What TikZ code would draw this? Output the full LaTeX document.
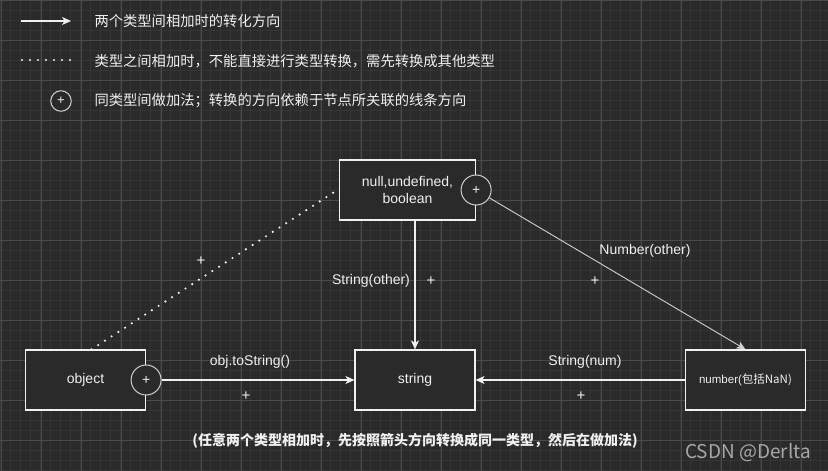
\documentclass[tikz,border=0pt]{standalone}
\usepackage{fontspec}
\setmainfont{Liberation Sans}
\newfontfamily\cjk{Noto Sans CJK SC}
\usetikzlibrary{arrows.meta}
\definecolor{bgdark}{HTML}{2A2A2A}
\definecolor{gridminor}{HTML}{353535}
\definecolor{gridmajor}{HTML}{4B4B4B}
\definecolor{inkwhite}{HTML}{F0F0F0}
\definecolor{ringgray}{HTML}{D0D0D0}
\definecolor{markgray}{HTML}{A8A8A8}

\begin{document}
\begin{tikzpicture}[x=1pt,y=-1pt,
		typebox/.style={draw=inkwhite,line width=1.2pt,fill=bgdark,text=inkwhite,minimum width=120pt,minimum height=60pt,align=center,inner sep=2pt,font=\fontsize{14}{16.5}\selectfont},
		plusring/.style={circle,draw=ringgray,line width=1pt,fill=bgdark,text=inkwhite,minimum size=30pt,inner sep=0pt,font=\fontsize{14}{14}\selectfont},
		conn/.style={draw=inkwhite,line width=1.1pt,-{Stealth[length=9pt,width=8pt,inset=2.5pt]}},
		dotline/.style={draw=inkwhite,line width=2.4pt,line cap=round,dash pattern=on 0pt off 8pt},
		lbl/.style={text=inkwhite,font=\fontsize{14}{16.5}\selectfont},
		cnlbl/.style={text=inkwhite,anchor=west,font=\cjk\fontsize{14.3}{17}\selectfont},
		plusmark/.style={text=inkwhite,font=\fontsize{15}{15}\selectfont}]
	\useasboundingbox (0,0) rectangle (828,471);
	\fill [bgdark] (0,0) rectangle (828,471);
	\foreach \x in {0,10,...,820}
		\draw [gridminor,line width=0.8pt] (\x,0) -- (\x,471);
	\foreach \y in {0,10,...,470}
		\draw [gridminor,line width=0.8pt] (0,\y) -- (828,\y);
	\foreach \x in {1,41,...,801}
		\draw [gridmajor,line width=0.9pt] (\x,0) -- (\x,471);
	\foreach \y in {0,40,...,440}
		\draw [gridmajor,line width=0.9pt] (0,\y) -- (828,\y);

	% legend
	\coordinate (arrowstart) at (21,21);
	\coordinate (arrowend) at (71,21);
	\draw [conn] (arrowstart) -- (arrowend);
	\node [cnlbl] (legarrow) at (91,21) {两个类型间相加时的转化方向};
	\coordinate (dotstart) at (22,60);
	\coordinate (dotend) at (70,60);
	\draw [dotline] (dotstart) -- (dotend);
	\node [cnlbl] (legdot) at (91,61) {类型之间相加时，不能直接进行类型转换，需先转换成其他类型};
	\node [plusring,minimum size=20.5pt,font=\fontsize{13}{13}\selectfont] (legring) at (61,101) {+};
	\node [cnlbl] (legplus) at (91,101) {同类型间做加法；转换的方向依赖于节点所关联的线条方向};

	% type boxes
	\node [typebox,minimum width=136pt] (nub) at (407.5,190) {null,undefined,\\boolean};
	\node [typebox] (obj) at (85.5,380) {object};
	\node [typebox] (str) at (415,380) {string};
	\node [typebox,font=\fontsize{11.5}{14}\selectfont] (num) at (745.5,380) {number(\cjk{包括}NaN)};
	\node [plusring] (nubplus) at (nub.east) {+};
	\node [plusring] (objplus) at (obj.east) {+};

	% connectors
	\draw [dotline] ([xshift=6pt]obj.north) -- ([yshift=1pt]nub.west);
	\draw [conn] (objplus.east) -- (objplus.east -| str.west);
	\draw [conn] (num.west) -- (str.east);
	\draw [conn] (str.north |- nub.south) -- (str.north);
	\draw [conn,draw=ringgray,line width=0.9pt] (nubplus) -- (num.north);

	% labels
	\node [lbl] (l1) at (250,362) {obj.toString()};
	\node [plusmark] (p1) at (246,396) {+};
	\node [lbl] (l2) at (585,362) {String(num)};
	\node [plusmark] (p2) at (581,396) {+};
	\node [lbl] (l3) at (371,281) {String(other)};
	\node [plusmark] (p3) at (431,281) {+};
	\node [lbl] (l4) at (645,251) {Number(other)};
	\node [plusmark] (p4) at (595,281) {+};
	\node [plusmark] (p5) at (201,261) {+};

	\node [text=inkwhite,font=\cjk\bfseries\fontsize{14}{17}\selectfont] (note) at (415,441) {(任意两个类型相加时，先按照箭头方向转换成同一类型，然后在做加法)};
	\node [text=markgray,font=\cjk\fontsize{19}{22}\selectfont] (mark) at (748,453) {CSDN @Derlta};
\end{tikzpicture}
\end{document}
